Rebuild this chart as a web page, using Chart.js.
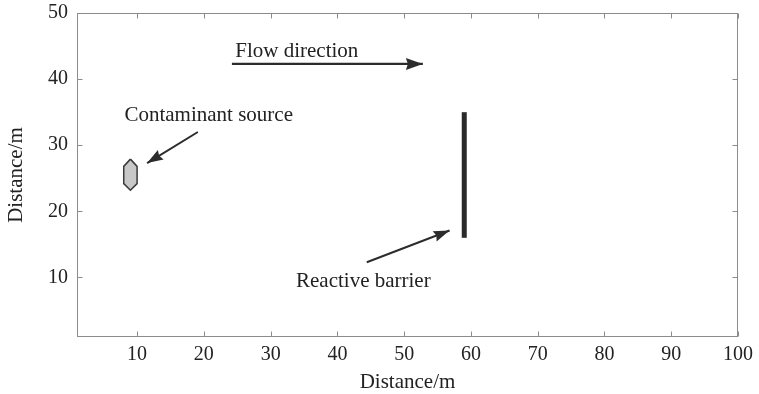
<!DOCTYPE html>
<html>
<head>
<meta charset="utf-8">
<script src="https://cdn.jsdelivr.net/npm/chart.js@4.4.1/dist/chart.umd.min.js"></script>
<style>
  html, body { margin: 0; padding: 0; background: #fff; }
</style>
</head>
<body>
<canvas id="chart" width="759" height="394"></canvas>
<script>
// tick labels
const xTicks = [10, 20, 30, 40, 50, 60, 70, 80, 90, 100];
const yTicks = [10, 20, 30, 40, 50];

// contaminant source outline (hexagon)
const sourceX = [9, 10, 10, 9, 8, 8, 9];
const sourceY = [27.9, 26.8, 24.2, 23.2, 24.2, 26.8, 27.9];

// reactive barrier
const barrierX = [59, 59];
const barrierY = [16, 35];

// arrows (start -> tip)
const flowArrowX = [24.2, 52.8];
const flowArrowY = [42.3, 42.3];
const sourceArrowX = [19.1, 11.5];
const sourceArrowY = [32.0, 27.3];
const barrierArrowX = [44.4, 56.8];
const barrierArrowY = [12.3, 17.1];

// annotation texts, anchored at left / baseline
const noteText = ['Flow direction', 'Contaminant source', 'Reactive barrier'];
const noteX = [24.7, 8.1, 33.8];
const noteY = [43.3, 33.6, 8.6];

const FONT = '"Liberation Serif", "Times New Roman", serif';
const TEXT = '#222';
const AXIS = '#8c8c8c';

function pts(xs, ys) {
  return xs.map((x, i) => ({ x: x, y: ys[i] }));
}

// frame, inward ticks, arrowheads and notes
const decor = {
  id: 'decor',
  afterDatasetsDraw(chart) {
    const { ctx, chartArea: a, scales } = chart;
    const x = scales.x, y = scales.y;

    // arrowheads on the last point of arrow datasets
    chart.data.datasets.forEach((ds, i) => {
      if (!ds.arrow) return;
      const els = chart.getDatasetMeta(i).data;
      const p0 = els[els.length - 2], p1 = els[els.length - 1];
      const ang = Math.atan2(p1.y - p0.y, p1.x - p0.x);
      const L = ds.headLen, W = ds.headWid;
      ctx.save();
      ctx.translate(p1.x, p1.y);
      ctx.rotate(ang);
      ctx.fillStyle = ds.borderColor;
      ctx.beginPath();
      ctx.moveTo(0, 0);
      ctx.lineTo(-L, -W);
      ctx.lineTo(-L * 0.88, 0);
      ctx.lineTo(-L, W);
      ctx.closePath();
      ctx.fill();
      ctx.restore();
    });

    ctx.save();
    ctx.font = '21px ' + FONT;
    ctx.fillStyle = TEXT;
    ctx.textAlign = 'left';
    ctx.textBaseline = 'alphabetic';
    noteText.forEach((t, i) => {
      ctx.fillText(t, x.getPixelForValue(noteX[i]), y.getPixelForValue(noteY[i]));
    });

    // box
    ctx.strokeStyle = AXIS;
    ctx.lineWidth = 1;
    const l = Math.round(a.left) + 0.5, r = Math.round(a.right) - 0.5;
    const t = Math.round(a.top) + 0.5, b = Math.round(a.bottom) - 0.5;
    ctx.strokeRect(l, t, r - l, b - t);

    // inward ticks on all four sides
    const tl = 5;
    ctx.beginPath();
    xTicks.forEach(v => {
      const px = Math.round(x.getPixelForValue(v)) + 0.5;
      ctx.moveTo(px, b); ctx.lineTo(px, b - tl);
      ctx.moveTo(px, t); ctx.lineTo(px, t + tl);
    });
    yTicks.forEach(v => {
      const py = Math.round(y.getPixelForValue(v)) + 0.5;
      ctx.moveTo(l, py); ctx.lineTo(l + tl, py);
      ctx.moveTo(r, py); ctx.lineTo(r - tl, py);
    });
    ctx.stroke();
    ctx.restore();
  }
};

new Chart(document.getElementById('chart'), {
  type: 'scatter',
  data: {
    datasets: [
      {
        data: pts(sourceX, sourceY),
        showLine: true,
        fill: 'shape',
        backgroundColor: '#c8c8c8',
        borderColor: '#3a3a3a',
        borderWidth: 1.5,
        pointRadius: 0,
        tension: 0
      },
      {
        data: pts(barrierX, barrierY),
        showLine: true,
        borderColor: '#2a2a2a',
        borderWidth: 5,
        borderCapStyle: 'butt',
        pointRadius: 0
      },
      {
        data: pts(flowArrowX, flowArrowY),
        showLine: true, arrow: true, headLen: 17, headWid: 6,
        borderColor: '#2c2c2c',
        borderWidth: 2.4,
        pointRadius: 0
      },
      {
        data: pts(sourceArrowX, sourceArrowY),
        showLine: true, arrow: true, headLen: 16, headWid: 5.5,
        borderColor: '#2c2c2c',
        borderWidth: 2,
        pointRadius: 0
      },
      {
        data: pts(barrierArrowX, barrierArrowY),
        showLine: true, arrow: true, headLen: 16, headWid: 5.5,
        borderColor: '#2c2c2c',
        borderWidth: 2,
        pointRadius: 0
      }
    ]
  },
  options: {
    responsive: false,
    animation: false,
    layout: { padding: { top: 13, right: 20, left: 0, bottom: 0 } },
    plugins: {
      legend: { display: false },
      tooltip: { enabled: false }
    },
    scales: {
      x: {
        type: 'linear',
        min: 1,
        max: 100,
        afterBuildTicks: s => { s.ticks = xTicks.map(v => ({ value: v })); },
        afterFit: s => { s.height = 57; },
        grid: { display: false, drawTicks: false },
        border: { display: false },
        ticks: {
          autoSkip: false,
          maxRotation: 0,
          padding: 6,
          color: TEXT,
          font: { family: FONT, size: 20 }
        },
        title: {
          display: true,
          text: 'Distance/m',
          color: TEXT,
          font: { family: FONT, size: 21, lineHeight: 1 },
          padding: { top: 0, bottom: 1 }
        }
      },
      y: {
        type: 'linear',
        min: 1,
        max: 50,
        afterBuildTicks: s => { s.ticks = yTicks.map(v => ({ value: v })); },
        afterFit: s => { s.width = 77; s.paddingTop = 0; s.paddingBottom = 0; },
        grid: { display: false, drawTicks: false },
        border: { display: false },
        ticks: {
          autoSkip: false,
          padding: 9,
          color: TEXT,
          font: { family: FONT, size: 20 }
        },
        title: {
          display: true,
          text: 'Distance/m',
          color: TEXT,
          font: { family: FONT, size: 21 },
          padding: { top: 4, bottom: 0 }
        }
      }
    }
  },
  plugins: [decor]
});
</script>
</body>
</html>
